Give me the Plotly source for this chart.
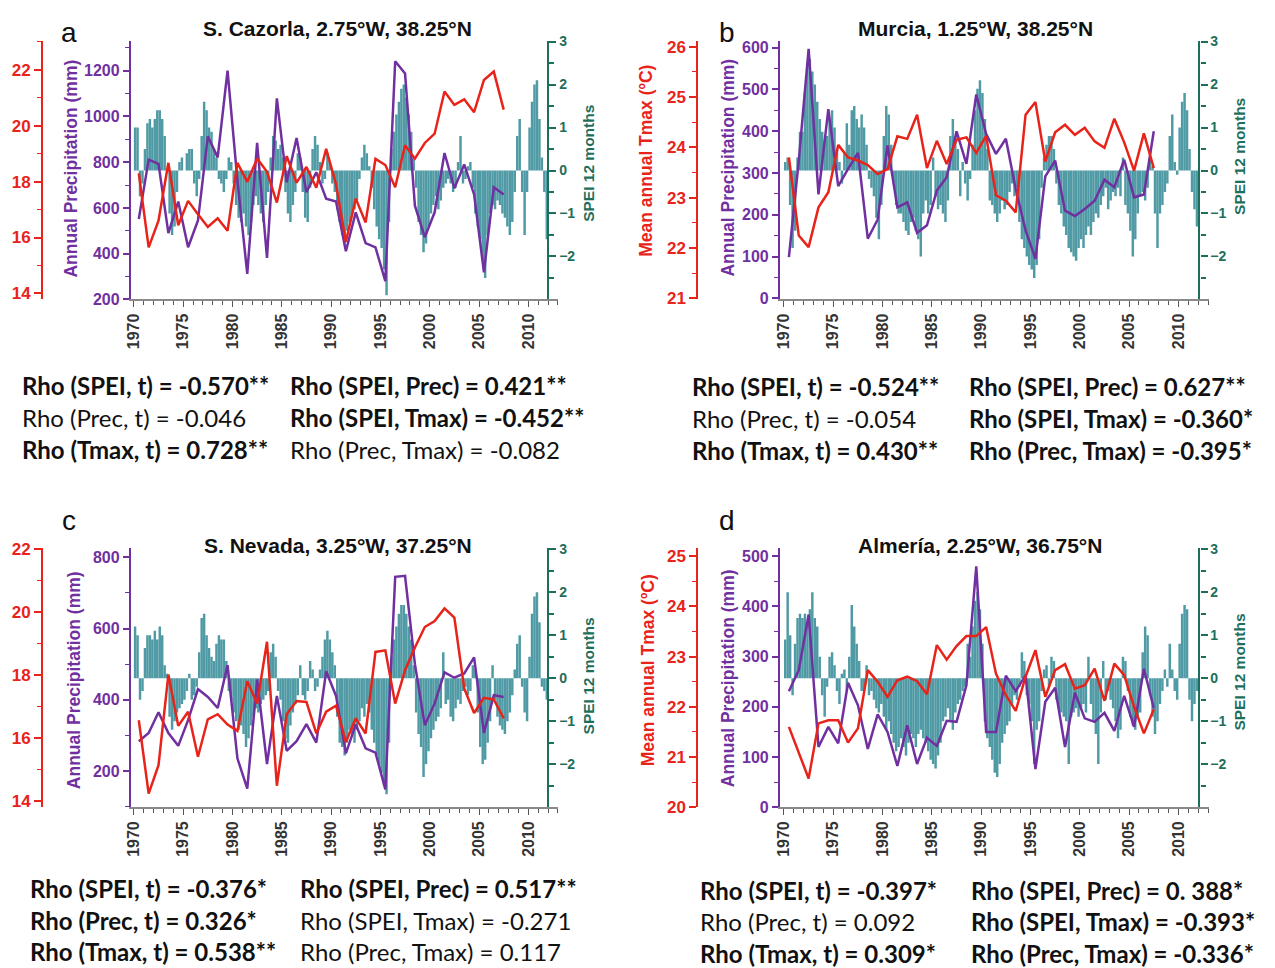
import plotly.graph_objects as go

# Picture geometry, measured from earlier renders:
#   screen_x = 0.9966 * placed_x + 5 ; screen_y = 0.9821 * (fig_y + 15.6)
W, H = 1275, 968
OFFX = 8
SX, CX = 0.9966, 5.0
SY, CY = 0.9821, 15.6
FW, FH = W - 2 * OFFX, H

# ---------------- data ----------------
YEARS = list(range(1970, 2008))          # annual series (plotted mid-year)
SPEI_START = 1970                        # SPEI series start (quarterly values)
SPEI_STEP = 0.25

PREC_A = [552, 811, 793, 490, 628, 428, 545, 913, 821, 1200,
          720, 312, 884, 382, 1079, 712, 906, 669, 756, 640,
          628, 411, 581, 446, 428, 280, 1241, 1188, 610, 472,
          581, 840, 686, 790, 659, 319, 690, 659]
TMAX_A = [18.29, 15.65, 16.60, 18.67, 16.44, 17.31, 16.83, 16.38, 16.69, 16.24,
          18.67, 17.99, 18.82, 18.35, 17.25, 18.91, 17.96, 18.52, 17.78, 19.17,
          17.90, 15.85, 17.39, 16.54, 18.81, 18.59, 17.80, 19.30, 18.82, 19.38,
          19.71, 21.22, 20.74, 20.94, 20.48, 21.63, 21.93, 20.57]
SPEI_A = [1.0, 1.0, -0.6, -0.3,  0.5, 1.1, 1.2, 1.0,  1.2, 1.4, 1.4, 1.2,
          0.8, 0.0, -1.0, -1.5,  -1.3, -0.5, 0.2, 0.3,  0.0, 0.4, 0.5, 0.5,
          -0.3, -0.6, -0.2, 0.8,  1.6, 1.4, 1.0, 0.9,  0.5, 0.3, -0.2, -0.3,
          -0.5, -0.2, 0.3, 0.2,  -0.3, -0.8, -1.1, -1.2,  -1.0, -1.3, -1.5, -1.2,
          -0.8, -0.6, -0.8, -1.0,  -1.2, -0.8, -0.5, 0.3,  0.8, 0.7, 0.5, 0.6,
          0.3, -0.5, -1.0, -1.2,  -0.8, -0.5, 0.4, 0.3,  -0.5, -1.1, -1.2, -0.4,
          0.5, 0.8, 0.6, 0.2,  -0.3, -0.2, 0.4, 0.2,  -0.3, -0.5, -0.9, -1.2,
          -1.5, -1.7, -1.4, -1.2,  -1.0, -0.9, -0.7, -0.2,  0.3, 0.6, 0.4, 0.1,
          -0.4, -0.9, -1.3, -1.6,  -1.8, -2.3, -2.9, -1.2,  0.5, 0.9, 1.3, 1.6,
          1.9, 2.0, 1.7, 1.3,  0.9, 0.3, -0.4, -1.2,  -1.5, -1.9, -1.7, -1.3,
          -1.0, -0.8, -0.6, -0.9,  -0.7, -0.4, -0.3, -0.2,  -0.3, -0.5, -0.4, 0.2,
          0.8, -0.3, -0.2, 0.1,  0.2, -0.4, -1.0, -1.3,  -1.6, -2.1, -2.5, -1.5,
          -1.0, -0.8, -0.9, -0.7,  -0.8, -1.0, -1.1, -1.3,  -1.5, -1.2, -0.5, 0.8,
          1.2, -0.5, -1.5, -0.5,  1.0, 1.6, 2.0, 2.1,  1.2, 0.3, -0.5, -1.6]

PREC_B = [99, 330, 597, 249, 453, 269, 310, 348, 143, 189,
          366, 218, 230, 157, 175, 258, 290, 400, 322, 488,
          394, 346, 382, 262, 163, 95, 292, 330, 210, 197,
          214, 234, 284, 266, 332, 242, 249, 400]
TMAX_B = [23.80, 22.25, 22.02, 22.81, 23.11, 24.05, 23.80, 23.74, 23.65, 23.47,
          23.57, 24.22, 24.17, 24.65, 23.59, 24.13, 23.67, 24.15, 24.20, 23.89,
          24.23, 23.05, 22.94, 22.71, 24.65, 24.90, 23.72, 24.30, 24.45, 24.25,
          24.39, 24.12, 23.99, 24.57, 24.10, 23.54, 24.28, 23.59]
SPEI_B = [0.2, 0.3, -0.8, -1.8,  -1.4, 0.3, 0.9, 0.9,  1.8, 2.5, 2.6, 2.3,
          2.0, 1.6, 1.2, 0.9,  0.7, 0.8, 1.2, 1.4,  1.0, 0.5, 0.2, -0.3,
          0.4, 1.1, 0.6, 1.4,  1.5, 1.2, 1.0, 1.3,  1.0, 0.6, -0.2, -0.4,
          -0.6, -1.1, -1.6, -0.8,  0.8, 1.5, 1.3, 0.6,  -0.3, -0.8, -1.0, -1.0,
          -1.2, -1.4, -1.5, -1.2,  -1.1, -1.4, -1.6, -2.0,  -1.0, -0.7, -1.0, -0.8,
          0.3, -0.6, -0.9, -0.8,  -1.0, -1.2, -0.7, 0.8,  1.2, 0.8, 0.5, -0.6,
          0.2, -0.3, -0.7, -0.2,  0.6, 1.4, 1.9, 2.1,  1.8, 1.2, 0.5, -0.7,
          -0.8, -1.0, -1.2, -1.0,  -0.7, -0.9, -0.8, -0.5,  -0.3, -0.6, -0.4, -1.2,
          -1.6, -1.8, -2.0, -2.2,  -2.3, -2.5, -2.2, -1.6,  -0.4, 0.3, 0.6, 0.8,
          0.8, 0.5, -0.3, -0.8,  -1.0, -1.3, -1.5, -1.8,  -1.9, -2.0, -2.1, -1.8,
          -1.6, -1.8, -1.5, -1.3,  -1.5, -1.2, -1.0, -1.1,  -0.8, -0.6, -0.4, -0.9,
          -0.7, -0.5, -0.6, -0.4,  -0.6, 0.3, -0.8, -1.0,  -1.4, -2.0, -1.6, -1.0,
          -0.6, -0.5, -0.7, -0.4,  0.3, 0.1, -1.0, -1.8,  -1.0, -0.8, -0.5, -0.3,
          0.8, 1.3, 0.2, -0.1,  1.0, 1.6, 1.8, 1.4,  0.5, -0.5, -0.9, -1.3]

PREC_C = [284, 307, 365, 307, 271, 343, 430, 408, 377, 497,
          236, 151, 457, 220, 411, 257, 284, 332, 280, 480,
          411, 250, 331, 264, 252, 149, 745, 748, 500, 329,
          390, 477, 462, 474, 519, 307, 413, 408]
TMAX_C = [16.57, 14.24, 15.14, 18.02, 16.39, 16.84, 15.41, 16.60, 16.76, 16.43,
          16.23, 17.81, 17.10, 19.06, 14.49, 16.76, 17.18, 17.15, 16.15, 16.84,
          17.03, 15.88, 16.63, 16.15, 18.74, 18.79, 17.10, 18.16, 18.88, 19.53,
          19.72, 20.12, 19.83, 17.58, 16.80, 17.28, 17.23, 16.63]
SPEI_C = [1.2, 1.0, -0.5, -0.3,  0.7, 1.0, 1.0, 0.9,  1.1, 0.9, 1.2, 1.0,
          0.3, 0.1, -0.9, -1.2,  -1.0, -0.8, -0.7, -0.6,  -0.5, -0.3, 0.1, -0.5,
          -0.4, -0.2, 0.6, 1.4,  1.5, 1.0, 0.7, 0.5,  0.4, 0.8, 1.0, 0.9,
          0.9, 0.4, -0.3, -0.5,  -0.8, -1.0, -1.2, -1.1,  -1.3, -1.6, -1.4, -1.1,
          -0.9, -0.7, -0.8, -0.6,  -0.5, -0.4, -0.3, 0.6,  0.8, 0.5, -0.3, -0.5,
          -1.0, -1.4, -1.5, -1.1,  -0.8, -0.6, -0.4, 0.3,  -0.4, -0.5, -0.3, 0.4,
          0.2, -0.3, -0.2, 0.2,  0.5, 0.9, 1.1, 0.9,  0.6, 0.3, -0.9, -1.5,
          -1.6, -1.8, -1.5, -1.2,  -1.3, -1.5, -1.2, -1.0,  -0.7, -0.9, -0.6, -0.8,
          -1.2, -1.5, -1.8, -2.0,  -2.2, -2.5, -2.7, -1.5,  0.5, 0.9, 1.2, 1.5,
          1.7, 1.7, 1.5, 1.2,  0.9, 0.3, -0.8, -1.3,  -1.6, -2.3, -2.0, -1.7,
          -1.4, -1.2, -1.0, -0.9,  -0.7, 0.6, -0.6, -0.5,  -0.9, -1.0, -0.7, -0.5,
          -0.6, -0.3, -0.2, -0.4,  -0.3, 0.3, 0.2, -0.8,  -1.6, -2.0, -1.9, -1.5,
          -1.0, 0.3, -0.5, -0.9,  -1.1, -1.2, -1.3, -1.0,  -0.8, -0.4, 0.2, 0.8,
          1.0, -0.2, -0.8, -1.0,  0.5, 1.5, 1.9, 2.0,  1.3, -0.2, -0.3, -0.5]

PREC_D = [231, 273, 384, 120, 160, 127, 248, 203, 116, 185,
          150, 82, 163, 86, 138, 122, 172, 170, 243, 480,
          150, 150, 262, 231, 263, 76, 210, 238, 120, 228,
          177, 170, 188, 152, 222, 160, 276, 197]
TMAX_D = [21.60, 21.09, 20.57, 21.67, 21.73, 21.73, 21.29, 21.57, 22.73, 22.50,
          22.20, 22.53, 22.60, 22.51, 22.25, 23.23, 22.94, 23.21, 23.41, 23.41,
          23.59, 22.66, 22.23, 21.92, 22.60, 23.13, 22.20, 22.73, 22.85, 22.36,
          22.43, 22.76, 22.12, 22.86, 22.63, 22.00, 21.47, 21.95]
SPEI_D = [0.9, 2.0, 1.0, -0.4,  0.8, 1.4, 1.5, 1.4,  1.5, 1.3, 1.6, 2.0,
          1.4, 1.2, 0.5, -0.4,  -0.9, -0.2, 0.5, 0.6,  0.3, -0.3, -0.6, 0.1,
          0.2, -0.3, 0.5, 1.7,  1.2, 0.8, 0.4, -0.3,  -0.3, 0.3, -0.4, -0.3,
          -0.5, -0.7, -0.8, -0.6,  -0.9, -1.2, -1.0, -1.3,  -1.5, -1.7, -1.6, -1.4,
          -1.6, -1.8, -1.5, -1.3,  -1.4, -1.6, -1.3, -1.2,  -1.4, -1.5, -1.7, -1.9,
          -2.0, -2.1, -1.8, -1.5,  -1.0, -0.9, -0.7, -1.0,  -1.2, -0.8, -0.6, -0.5,
          -0.3, -0.2, 0.8, 0.5,  1.2, 1.8, 2.0, 1.6,  0.8, -1.0, -1.4, -1.6,
          -1.9, -2.2, -2.3, -2.0,  -1.5, -1.3, -1.1, -1.0,  -0.6, -0.4, -0.5, -0.2,
          0.6, 0.4, -0.4, -0.6,  -1.0, -2.0, -1.2, -1.0,  -0.3, 0.2, 0.3, -0.2,
          0.5, 0.4, -0.5, -0.7,  -0.8, -0.9, -1.0, -2.0,  -0.9, -0.8, -0.7, -0.9,
          -0.7, -0.6, -0.8, 0.5,  -0.6, -1.0, -1.3, -2.0,  -0.8, 0.4, -0.5, -0.3,
          -0.5, -0.7, -1.0, -1.4,  -1.2, 0.5, 0.4, -0.3,  -0.9, -1.1, -1.2, -0.9,
          -0.8, 0.6, 1.2, 1.0,  -0.4, -0.9, -1.3, -1.0,  -0.6, -0.3, 0.2, -0.2,
          0.8, 0.2, -0.3, -0.5,  0.8, 1.5, 1.7, 1.6,  -0.5, -1.0, -0.6, -0.3]

RHO_A = [[("Rho (SPEI, t) = -0.570**", True), ("Rho (SPEI, Prec) = 0.421**", True)],
         [("Rho (Prec, t) = -0.046", False), ("Rho (SPEI, Tmax) = -0.452**", True)],
         [("Rho (Tmax, t) = 0.728**", True), ("Rho (Prec, Tmax) = -0.082", False)]]
RHO_B = [[("Rho (SPEI, t) = -0.524**", True), ("Rho (SPEI, Prec) = 0.627**", True)],
         [("Rho (Prec, t) = -0.054", False), ("Rho (SPEI, Tmax) = -0.360*", True)],
         [("Rho (Tmax, t) = 0.430**", True), ("Rho (Prec, Tmax) = -0.395*", True)]]
RHO_C = [[("Rho (SPEI, t) = -0.376*", True), ("Rho (SPEI, Prec) = 0.517**", True)],
         [("Rho (Prec, t) = 0.326*", True), ("Rho (SPEI, Tmax) = -0.271", False)],
         [("Rho (Tmax, t) = 0.538**", True), ("Rho (Prec, Tmax) = 0.117", False)]]
RHO_D = [[("Rho (SPEI, t) = -0.397*", True), ("Rho (SPEI, Prec) = 0. 388*", True)],
         [("Rho (Prec, t) = 0.092", False), ("Rho (SPEI, Tmax) = -0.393*", True)],
         [("Rho (Tmax, t) = 0.309*", True), ("Rho (Prec, Tmax) = -0.336*", True)]]

# ---------------- styles ----------------
RED = "#e8231a"
PURPLE = "#7030a0"
BAR = "#4f9aa4"
TEAL = "#1d6e5b"
GRAY = "#8a8a8a"
TXT = "#111111"
AX_FONT = "Liberation Sans"
RHO_FONT = "Lato"
PX_PER_YEAR = 9.875


def fx(x):
    """picture x (px) -> paper fraction"""
    return ((x - CX) / SX - OFFX) / FW


def fy(y):
    """picture y (px) -> paper fraction"""
    return 1 - (y / SY - CY) / FH


def frange(a, b, s):
    out, v = [], a
    while v <= b + 1e-9:
        out.append(round(v, 4))
        v += s
    return out


PANELS = [
    dict(letter="a", letter_x=68, letter_top=None, title="S. Cazorla, 2.75°W, 38.25°N", title_xy=(337, 28),
         xl=130, xr=558, x1970=133, yt=40, yb=299, tmax_x=41, spei_x=548,
         prec=PREC_A, tmax=TMAX_A, spei=SPEI_A,
         prec_range=[200, 1331], prec_major=(200, 1200, 200), prec_minor=(300, 1300, 200),
         tmax_range=[13.786, 23.036], tmax_major=(14, 22, 2), tmax_minor=(15, 23, 2),
         prec_title_xy=(70, 168), tmax_title_xy=None, spei_title_xy=(588, 163),
         rho=RHO_A, rho_x=(20, 288), rho_y=(385, 417, 449)),
    dict(letter="b", letter_x=727, letter_top=None, title="Murcia, 1.25°W, 38.25°N", title_xy=(976, 28),
         xl=780, xr=1210, x1970=784, yt=40, yb=299, tmax_x=697, spei_x=1200,
         prec=PREC_B, tmax=TMAX_B, spei=SPEI_B,
         prec_range=[-2.4, 616.8], prec_major=(0, 600, 100), prec_minor=(50, 550, 100),
         tmax_range=[20.98, 26.12], tmax_major=(21, 26, 1), tmax_minor=(21.5, 25.5, 1),
         prec_title_xy=(728, 167), tmax_title_xy=(645, 160), spei_title_xy=(1240, 156),
         rho=RHO_B, rho_x=(691, 968), rho_y=(386, 418, 450)),
    dict(letter="c", letter_x=68, letter_top=504, title="S. Nevada, 3.25°W, 37.25°N", title_xy=(337, 545),
         xl=130, xr=558, x1970=133, yt=548, yb=807, tmax_x=41, spei_x=548,
         prec=PREC_C, tmax=TMAX_C, spei=SPEI_C,
         prec_range=[99.1, 825], prec_major=(200, 800, 200), prec_minor=(100, 700, 200),
         tmax_range=[13.81, 22.03], tmax_major=(14, 22, 2), tmax_minor=(15, 21, 2),
         prec_title_xy=(73, 680), tmax_title_xy=None, spei_title_xy=(588, 676),
         rho=RHO_C, rho_x=(28, 298), rho_y=(888, 920, 951)),
    dict(letter="d", letter_x=727, letter_top=504, title="Almería, 2.25°W, 36.75°N", title_xy=(980, 545),
         xl=780, xr=1210, x1970=784, yt=548, yb=807, tmax_x=697, spei_x=1200,
         prec=PREC_D, tmax=TMAX_D, spei=SPEI_D,
         prec_range=[0, 516], prec_major=(0, 500, 100), prec_minor=(50, 450, 100),
         tmax_range=[20.0, 25.16], tmax_major=(20, 25, 1), tmax_minor=(20.5, 24.5, 1),
         prec_title_xy=(728, 678), tmax_title_xy=(648, 670), spei_title_xy=(1240, 672),
         rho=RHO_D, rho_x=(699, 970), rho_y=(890, 921, 953)),
]

fig = go.Figure()
layout = dict(width=FW, height=FH, margin=dict(l=0, r=0, t=0, b=0),
              paper_bgcolor="white", plot_bgcolor="rgba(0,0,0,0)",
              showlegend=False, barmode="overlay")
annotations = []


def ann(x, y, text, size, color, family=AX_FONT, angle=0, xanchor="center", yanchor="middle",
        ypaper=None):
    annotations.append(dict(xref="paper", yref="paper", x=fx(x),
                            y=fy(y) if ypaper is None else ypaper, text=text,
                            showarrow=False, textangle=angle, xanchor=xanchor, yanchor=yanchor,
                            borderpad=0,
                            font=dict(family=family, size=size, color=color)))


for i, p in enumerate(PANELS):
    n0 = 3 * i + 1
    xid = "x" if i == 0 else f"x{i+1}"
    xkey = "xaxis" if i == 0 else f"xaxis{i+1}"
    yids = ["y" if n == 1 else f"y{n}" for n in (n0, n0 + 1, n0 + 2)]
    ykeys = ["yaxis" if n == 1 else f"yaxis{n}" for n in (n0, n0 + 1, n0 + 2)]

    qx = [SPEI_START + SPEI_STEP * (k + 0.5) for k in range(len(p["spei"]))]
    mid = [yr + 0.5 for yr in YEARS]
    fig.add_trace(go.Bar(x=qx, y=p["spei"], width=SPEI_STEP,
                         marker=dict(color=BAR, line_width=0),
                         xaxis=xid, yaxis=yids[0], hoverinfo="skip"))
    fig.add_trace(go.Scatter(x=mid, y=p["prec"], mode="lines",
                             line=dict(color=PURPLE, width=2.5),
                             xaxis=xid, yaxis=yids[1]))
    fig.add_trace(go.Scatter(x=mid, y=p["tmax"], mode="lines",
                             line=dict(color=RED, width=2.5),
                             xaxis=xid, yaxis=yids[2]))

    dom_y = [fy(p["yb"]), fy(p["yt"])]
    xr0 = 1970 - (p["x1970"] - p["xl"]) / PX_PER_YEAR
    xr1 = 1970 + (p["xr"] - p["x1970"]) / PX_PER_YEAR
    layout[xkey] = dict(domain=[fx(p["xl"]), fx(p["xr"])], anchor=yids[0], range=[xr0, xr1],
                        showline=True, linecolor=GRAY, linewidth=1.5, showgrid=False, zeroline=False,
                        tickmode="array", tickvals=list(range(1970, 2011, 5)),
                        ticktext=[str(v) for v in range(1970, 2011, 5)],
                        tickangle=-90, ticks="outside", ticklen=6, tickcolor="#555555", tickwidth=1.2,
                        tickfont=dict(family=AX_FONT, size=16, color="#333333", weight="bold"),
                        minor=dict(tickmode="array", tickvals=list(range(1970, 2014)),
                                   ticks="outside", ticklen=4, tickcolor="#555555", tickwidth=1))
    # SPEI axis (main)
    layout[ykeys[0]] = dict(domain=dom_y, anchor="free", position=fx(p["spei_x"]), side="right",
                            range=[-3.0, 3.02], showline=True, linecolor=TEAL, linewidth=2.2,
                            showgrid=False, zeroline=False, tickmode="array",
                            tickvals=[-2, -1, 0, 1, 2, 3], ticks="outside", ticklen=7,
                            tickcolor=TEAL, tickwidth=1.8,
                            tickfont=dict(family=AX_FONT, size=14, color=TEAL, weight="bold"),
                            minor=dict(tickmode="array", tickvals=[-2.5, -1.5, -0.5, 0.5, 1.5, 2.5],
                                       ticks="outside", ticklen=5, tickcolor=TEAL, tickwidth=1.5))
    # precipitation axis
    layout[ykeys[1]] = dict(overlaying=yids[0], anchor=xid, side="left",
                            range=p["prec_range"], showline=True, linecolor=PURPLE, linewidth=2,
                            showgrid=False, zeroline=False, tickmode="array",
                            tickvals=frange(*p["prec_major"]), ticks="outside", ticklen=6,
                            tickcolor=PURPLE, tickwidth=1.5,
                            tickfont=dict(family=AX_FONT, size=16, color=PURPLE, weight="bold"),
                            minor=dict(tickmode="array", tickvals=frange(*p["prec_minor"]),
                                       ticks="outside", ticklen=4, tickcolor=PURPLE, tickwidth=1.2))
    # Tmax axis
    layout[ykeys[2]] = dict(overlaying=yids[0], anchor="free", position=fx(p["tmax_x"]), side="left",
                            range=p["tmax_range"], showline=True, linecolor=RED, linewidth=1.6,
                            showgrid=False, zeroline=False, tickmode="array",
                            tickvals=frange(*p["tmax_major"]), ticks="outside", ticklen=7,
                            tickcolor=RED, tickwidth=1.5,
                            tickfont=dict(family=AX_FONT, size=17, color=RED, weight="bold"),
                            minor=dict(tickmode="array", tickvals=frange(*p["tmax_minor"]),
                                       ticks="outside", ticklen=4, tickcolor=RED, tickwidth=1.2))

    # texts: panel letters sit with their box top at the top of the page area
    if p["letter_top"] is None:
        ann(p["letter_x"], 0, p["letter"], 28, TXT, yanchor="top", ypaper=1.0)
    else:
        ann(p["letter_x"], p["letter_top"], p["letter"], 28, TXT, yanchor="top")
    ann(*p["title_xy"], f"<b>{p['title']}</b>", 21, TXT)
    ann(*p["prec_title_xy"], "<b>Annual Precipitation (mm)</b>", 17.5, PURPLE, angle=-90)
    if p["tmax_title_xy"]:
        ann(*p["tmax_title_xy"], "<b>Mean annual Tmax (ºC)</b>", 17.5, RED, angle=-90)
    ann(*p["spei_title_xy"], "<b>SPEI 12 months</b>", 15.5, TEAL, angle=-90)
    for r, row in enumerate(p["rho"]):
        for c, (txt, bold) in enumerate(row):
            ann(p["rho_x"][c], p["rho_y"][r], f"<b>{txt}</b>" if bold else txt, 24, TXT,
                family=RHO_FONT, xanchor="left")

layout["annotations"] = annotations
fig.update_layout(**layout)
fig.write_html("out.html")
